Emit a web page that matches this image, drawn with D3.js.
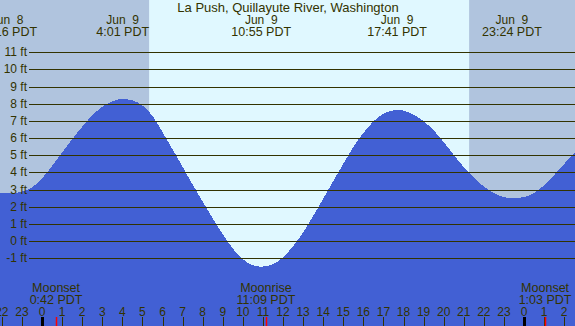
<!DOCTYPE html>
<html>
<head>
<meta charset="utf-8">
<script src="https://cdn.jsdelivr.net/npm/d3@7"></script>
<style>
  html, body { margin: 0; padding: 0; background: #fff; }
  svg { display: block; }
  text { font-family: "Liberation Sans", Arial, sans-serif; font-size: 12px; fill: #333300; white-space: pre; }
</style>
</head>
<body>
<svg id="tide_svg"></svg>
<script>
var title = "La Push, Quillayute River, Washington";

// tide curve: hours from Jun 9 0:00 PDT, height in feet
var tideHours = [-2.5, -2.0, -1.74, -1.5, -1.0, -0.5, 0.0, 0.5, 1.0, 1.5, 2.0, 2.5, 3.0, 3.5, 4.02,
                 4.5, 5.0, 5.5, 6.0, 6.5, 7.0, 7.5, 8.0, 8.5, 9.0, 9.5, 10.0, 10.5, 10.92,
                 11.5, 12.0, 12.5, 13.0, 13.5, 14.0, 14.5, 15.0, 15.5, 16.0, 16.5, 17.0, 17.68,
                 18.0, 18.5, 19.0, 19.5, 20.0, 20.5, 21.0, 21.5, 22.0, 22.5, 23.0, 23.4,
                 24.0, 24.5, 25.0, 25.5, 26.0, 26.5, 27.0];
var tideFeet  = [2.85, 2.79, 2.78, 2.79, 2.88, 3.13, 3.65, 4.38, 5.15, 5.93, 6.66, 7.32, 7.82, 8.15, 8.28,
                 8.20, 7.90, 7.30, 6.35, 5.35, 4.33, 3.30, 2.30, 1.33, 0.40, -0.43, -1.06, -1.40, -1.49,
                 -1.35, -0.93, -0.30, 0.50, 1.47, 2.46, 3.50, 4.50, 5.47, 6.30, 6.97, 7.42, 7.64,
                 7.60, 7.36, 6.99, 6.45, 5.78, 5.02, 4.32, 3.70, 3.18, 2.80, 2.57, 2.50,
                 2.56, 2.80, 3.25, 3.85, 4.50, 5.10, 5.75];

// high / low tide labels along the top
var extremeDays   = ["Jun  8", "Jun  9", "Jun  9", "Jun  9", "Jun  9"];
var extremeTimes  = ["22:16", "4:01", "10:55", "17:41", "23:24"];
var extremeOffset = [-1, 0, 0, 0, 0];

// sunrise and sunset (daylight band)
var sunTimes = ["5:20", "21:16"];

// moon events along the bottom
var moonNames  = ["Moonset", "Moonrise", "Moonset"];
var moonTimes  = ["0:42", "11:09", "1:03"];
var moonOffset = [0, 0, 1];

var footTicks = [-1, 0, 1, 2, 3, 4, 5, 6, 7, 8, 9, 10, 11];
var hourTicks = [-2, -1, 0, 1, 2, 3, 4, 5, 6, 7, 8, 9, 10, 11, 12, 13, 14, 15, 16, 17, 18, 19, 20,
                 21, 22, 23, 24, 25, 26];

function toHours(str, dayOffset) {
  var p = str.split(":");
  return (dayOffset || 0) * 24 + (+p[0]) + (+p[1]) / 60;
}

var width = 575,
    height = 326;

var svg = d3.select("#tide_svg")
  .attr("width", width)
  .attr("height", height);

var x = d3.scaleLinear()
  .domain([0, 24])
  .range([42, 524]);

var y = d3.scaleLinear()
  .domain([-1, 11])
  .range([258.3, 52.3]);

// night background, then the daylight band
svg.append("rect")
  .attr("x", 0).attr("y", 0)
  .attr("width", width).attr("height", height)
  .style("fill", "#b0c4de");

var sunrise = toHours(sunTimes[0]), sunset = toHours(sunTimes[1]);
svg.append("rect")
  .attr("x", x(sunrise)).attr("y", 0)
  .attr("width", x(sunset) - x(sunrise)).attr("height", height)
  .style("fill", "#e0f8ff");

// tide area
var tide = tideHours.map(function (h, i) { return { h: h, ft: tideFeet[i] }; });

var area = d3.area()
  .x(function (d) { return x(d.h); })
  .y0(height)
  .y1(function (d) { return y(d.ft); })
  .curve(d3.curveMonotoneX);

svg.append("path")
  .datum(tide)
  .attr("d", area)
  .style("fill", "#4260d4")
  .attr("shape-rendering", "crispEdges");

// horizontal grid lines with foot labels
svg.selectAll(".grid")
  .data(footTicks)
  .enter().append("line")
  .attr("x1", 29).attr("x2", width)
  .attr("y1", function (d) { return Math.round(y(d)) + 0.5; })
  .attr("y2", function (d) { return Math.round(y(d)) + 0.5; })
  .style("stroke", "#333300")
  .style("stroke-width", 1);

svg.selectAll(".ftlabel")
  .data(footTicks)
  .enter().append("text")
  .attr("x", 27)
  .attr("y", function (d) { return y(d) + 4; })
  .attr("text-anchor", "end")
  .text(function (d) { return d + " ft"; });

// title and tide extremes
svg.append("text")
  .attr("x", 288).attr("y", 12)
  .attr("text-anchor", "middle")
  .style("font-size", "13px")
  .text(title);

extremeTimes.forEach(function (t, i) {
  var cx = x(toHours(t, extremeOffset[i]));
  svg.append("text")
    .attr("x", cx).attr("y", 24)
    .attr("text-anchor", "middle")
    .text(extremeDays[i]);
  svg.append("text")
    .attr("x", cx).attr("y", 36)
    .attr("text-anchor", "middle")
    .style("font-size", "12.5px")
    .text(t + " PDT");
});

// hour ticks along the bottom
svg.selectAll(".hourtick")
  .data(hourTicks)
  .enter().append("line")
  .attr("x1", function (d) { return Math.round(x(d)) + 0.5; })
  .attr("x2", function (d) { return Math.round(x(d)) + 0.5; })
  .attr("y1", 317).attr("y2", height)
  .style("stroke", function (d) { return d % 24 === 0 ? "#000" : "#333300"; })
  .style("stroke-width", function (d) { return d % 24 === 0 ? 3 : 1; });

svg.selectAll(".hourlabel")
  .data(hourTicks)
  .enter().append("text")
  .attr("x", function (d) { return x(d); })
  .attr("y", 316)
  .attr("text-anchor", "middle")
  .text(function (d) { return ((d % 24) + 24) % 24; });

// moon events
moonTimes.forEach(function (t, i) {
  var cx = x(toHours(t, moonOffset[i]));
  svg.append("line")
    .attr("x1", Math.round(cx) + 0.5).attr("x2", Math.round(cx) + 0.5)
    .attr("y1", 317).attr("y2", height)
    .style("stroke", "#ff0000")
    .style("stroke-width", 1.5);
  svg.append("text")
    .attr("x", cx).attr("y", 292)
    .attr("text-anchor", "middle")
    .style("font-size", "12.5px")
    .text(moonNames[i]);
  svg.append("text")
    .attr("x", cx).attr("y", 304)
    .attr("text-anchor", "middle")
    .style("font-size", "12.5px")
    .text(t + " PDT");
});
</script>
</body>
</html>
